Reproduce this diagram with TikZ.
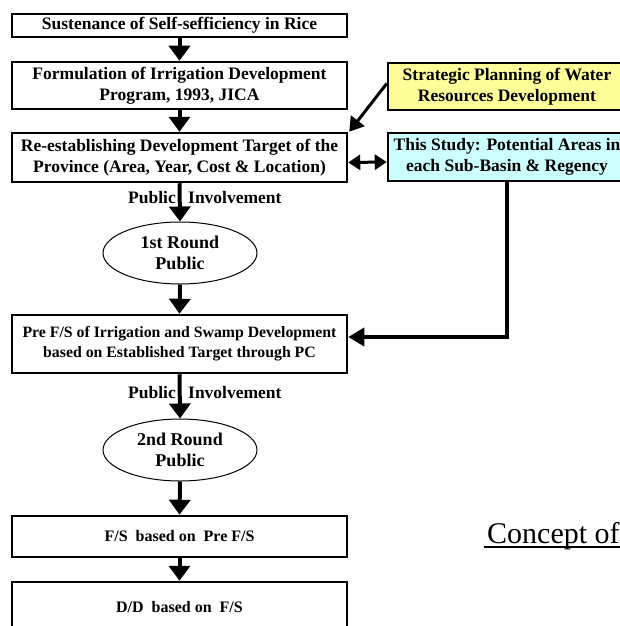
\documentclass[tikz,border=0pt]{standalone}
\usepackage{fontspec}
\setmainfont{Liberation Serif}
\usetikzlibrary{arrows.meta,shapes.geometric,calc}
\definecolor{ylw}{HTML}{FFFF99}
\definecolor{cyn}{HTML}{CCFFFF}
\begin{document}
\begin{tikzpicture}[x=1pt,y=-1pt,
  box/.style={draw, line width=2.5pt, fill=white, minimum width=335pt, align=center, inner sep=0pt,
    font=\bfseries\fontsize{17.5}{21}\selectfont},
  sidebox/.style={box, minimum width=238pt},
  oval/.style={draw, line width=1pt, ellipse, minimum width=154pt, minimum height=62pt, inner sep=0pt,
    align=center, font=\bfseries\fontsize{18}{21}\selectfont},
  lbl/.style={inner sep=0pt, font=\bfseries\fontsize{17.5}{21}\selectfont},
  arr/.style={line width=4pt, -{Triangle[width=21pt,length=15pt]}},
  link/.style={line width=3.5pt}
]
\useasboundingbox (0,0) rectangle (620,626);
\clip (0,0) rectangle (620,626);

\node[box, minimum height=23pt] (b1) at (179.5,25.5) {Sustenance of Self-sefficiency in Rice};
\node[box, minimum height=47pt] (b2) at (179.5,85.5) {Formulation of Irrigation Development\\Program, 1993, JICA};
\node[box, minimum height=49pt] (b3) at (179.5,157.5) {Re-establishing Development Target of the\\Province (Area, Year, Cost \& Location)};
\node[oval] (e1) at (180,253) {1st Round\\Public};
\node[box, minimum height=58pt, font=\bfseries\fontsize{15.8}{20}\selectfont] (b4) at (179.5,344) {Pre F/S of Irrigation and Swamp Development\\based on Established Target through PC};
\node[oval] (e2) at (180,450) {2nd Round\\Public};
\node[box, minimum height=41pt, font=\bfseries\fontsize{16}{20}\selectfont] (b5) at (179.5,536.5) {F/S\ \ based on\ \ Pre F/S};
\node[box, minimum height=50pt, font=\bfseries\fontsize{16}{20}\selectfont] (b6) at (179.5,607) {D/D\ \ based on\ \ F/S};

\node[sidebox, fill=ylw, minimum height=47pt] (ye) at (507,86.5) {Strategic Planning of Water\\Resources Development};
\node[sidebox, fill=cyn, minimum height=48pt] (cy) at (507,157) {This Study: Potential Areas in\\each Sub-Basin \& Regency};

\node[lbl, anchor=east] (p1) at (176,198) {Public};
\node[lbl, anchor=west] (i1) at (188,198) {Involvement};
\node[lbl, anchor=east] (p2) at (176,393) {Public};
\node[lbl, anchor=west] (i2) at (188,393) {Involvement};

\node[inner sep=0pt, anchor=base west, font=\fontsize{30}{36}\selectfont] (cc) at (487,543) {Concept of};
\draw[line width=2pt] ($(cc.base west)+(-3,4)$) -- ++(160,0);

\draw[arr] (b1.south) -- (b2.north);
\draw[arr] (b2.south) -- (b3.north);
\draw[arr] (b3.south) -- (e1.north);
\draw[arr] (e1.south) -- (b4.north);
\draw[arr] (b4.south) -- (e2.north);
\draw[arr] (e2.south) -- (b5.north);
\draw[arr] (b5.south) -- (b6.north);

\draw[line width=3pt, -{Triangle[width=17pt,length=14pt]}] ([yshift=3pt]ye.west) -- ([xshift=1pt]b3.north east);
\draw[line width=3pt, {Triangle[width=15pt,length=12pt]}-{Triangle[width=15pt,length=12pt]}] ([yshift=-5pt]b3.east) -- ([yshift=-5pt]cy.west);
\draw[link, -{Triangle[width=18pt,length=16pt]}] (cy.south) |- ([yshift=7pt]b4.east);
\end{tikzpicture}
\end{document}
